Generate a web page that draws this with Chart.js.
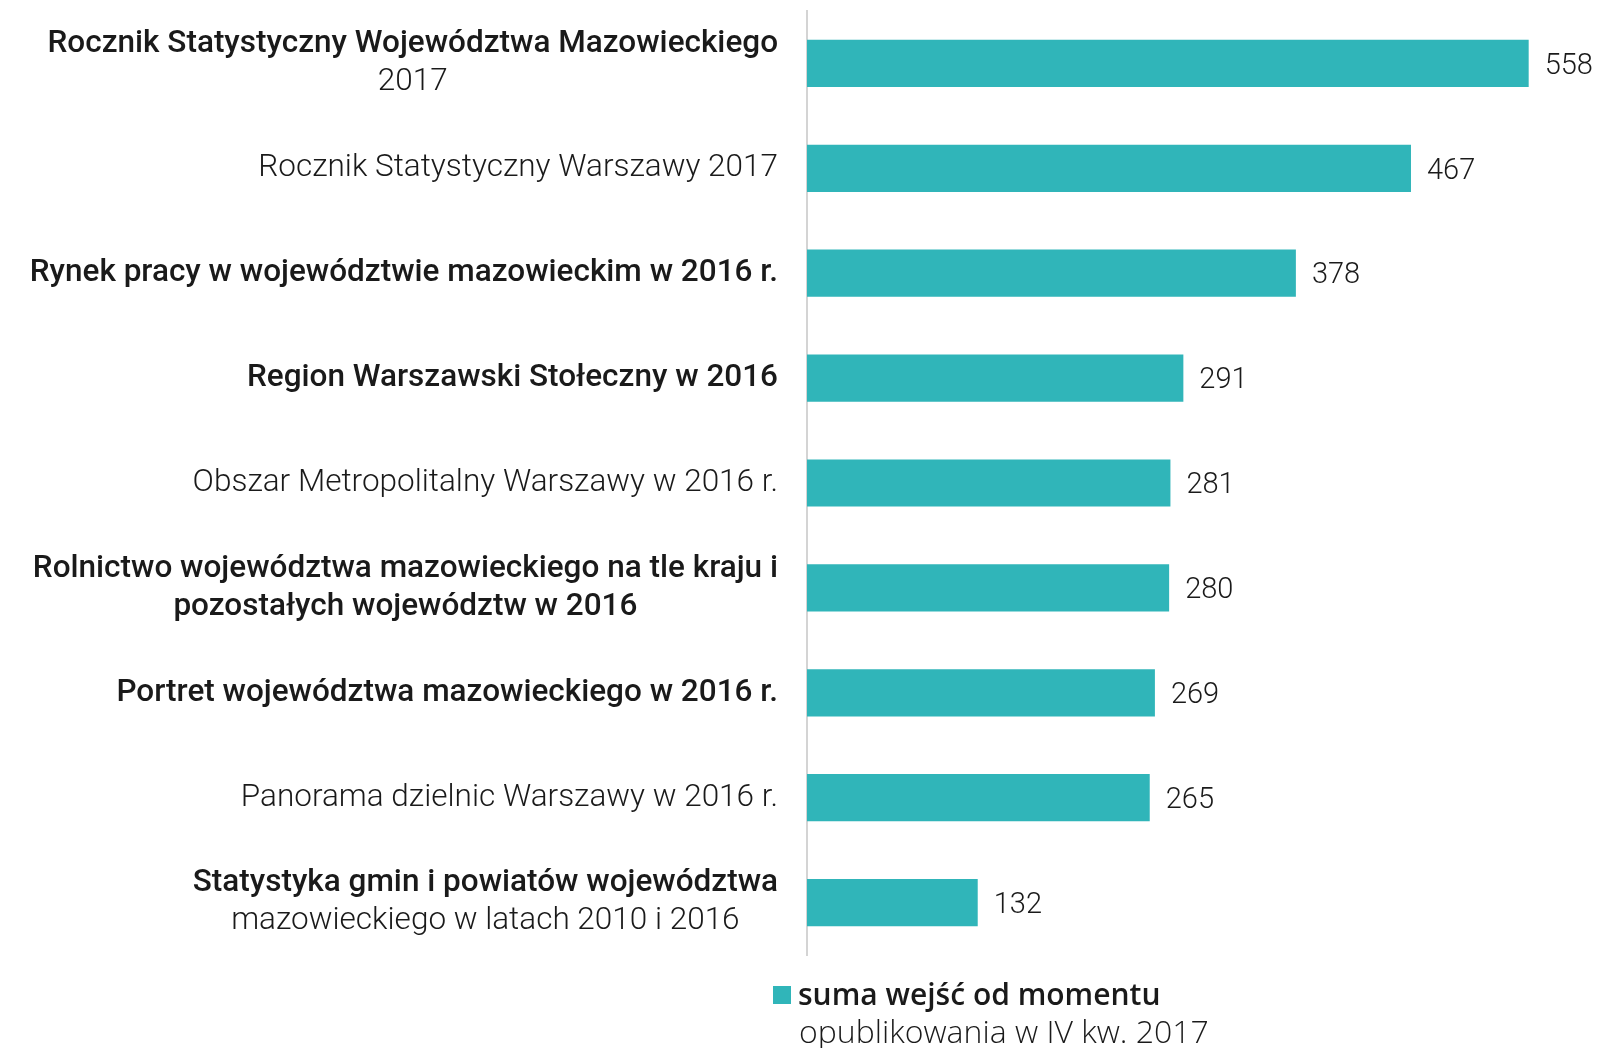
<!DOCTYPE html>
<html>
<head>
<meta charset="utf-8">
<script src="https://cdn.jsdelivr.net/npm/chart.js@4"></script>
<style>
  html, body { margin: 0; padding: 0; background: #ffffff; }
  #wrap { width: 1599px; height: 1048px; position: relative; }
</style>
</head>
<body>
<div id="wrap"><canvas id="c" width="1599" height="1048"></canvas></div>
<script>
// ---- data ----
const categories = [
  ["Rocznik Statystyczny Województwa Mazowieckiego", "2017"],
  ["Rocznik Statystyczny Warszawy 2017"],
  ["Rynek pracy w województwie mazowieckim w 2016 r."],
  ["Region Warszawski Stołeczny w 2016"],
  ["Obszar Metropolitalny Warszawy w 2016 r."],
  ["Rolnictwo województwa mazowieckiego na tle kraju i", "pozostałych województw w 2016"],
  ["Portret województwa mazowieckiego w 2016 r."],
  ["Panorama dzielnic Warszawy w 2016 r."],
  ["Statystyka gmin i powiatów województwa", "mazowieckiego w latach 2010 i 2016"]
];
const values = [558, 467, 378, 291, 281, 280, 269, 265, 132];
const seriesLabel = ["suma wejść od momentu", "opublikowania w IV kw. 2017"];
const axisMax = 600;

// ---- styles ----
const BAR_COLOR = "#30b5b9";
const TEXT_COLOR = "#1a1a1a";
const labelWeights = [[500, 300], [300], [500], [500], [300], [500, 500], [500], [300], [500, 300]];
const LABEL_FONT = "Roboto";
const LABEL_SIZE = 31.5;
const LINE_GAP = 38;
const LABEL_RIGHT = 778;

const labelPlugin = {
  id: 'labels',
  afterDraw(chart) {
    const ctx = chart.ctx;
    const y = chart.scales.y;
    ctx.save();
    ctx.fillStyle = TEXT_COLOR;
    ctx.textBaseline = 'middle';
    // category labels
    categories.forEach((lines, i) => {
      const cy = y.getPixelForValue(i);
      let maxW = 0;
      lines.forEach((ln, j) => {
        ctx.font = labelWeights[i][j] + " " + LABEL_SIZE + "px " + LABEL_FONT;
        maxW = Math.max(maxW, ctx.measureText(ln).width);
      });
      const cx = LABEL_RIGHT - maxW / 2;
      ctx.textAlign = 'center';
      lines.forEach((ln, j) => {
        ctx.font = labelWeights[i][j] + " " + LABEL_SIZE + "px " + LABEL_FONT;
        const ly = cy + (j - (lines.length - 1) / 2) * LINE_GAP;
        ctx.fillText(ln, cx, ly);
      });
    });
    // value labels
    ctx.textAlign = 'left';
    ctx.font = "300 29px Roboto";
    const meta = chart.getDatasetMeta(0);
    meta.data.forEach((bar, i) => {
      ctx.fillText(String(values[i]), bar.x + 16, bar.y + 3);
    });
    // legend
    const lx = 773, ly1 = 996, ly2 = 1034;
    ctx.fillStyle = BAR_COLOR;
    ctx.fillRect(lx, ly1 - 10, 18, 18);
    ctx.fillStyle = TEXT_COLOR;
    ctx.font = "600 30px 'Open Sans'";
    ctx.fillText(seriesLabel[0], 798, ly1);
    ctx.font = "300 32px 'Open Sans'";
    ctx.fillText(seriesLabel[1], 799, ly2);
    ctx.restore();
  }
};

new Chart(document.getElementById('c'), {
  type: 'bar',
  data: {
    labels: categories.map(l => l.join(' ')),
    datasets: [{
      label: seriesLabel.join(' '),
      data: values,
      backgroundColor: BAR_COLOR,
      borderWidth: 0,
      barPercentage: 0.9,
      categoryPercentage: 0.5
    }]
  },
  options: {
    indexAxis: 'y',
    responsive: false,
    animation: false,
    layout: { padding: { left: 799, right: 16, top: 11, bottom: 93 } },
    plugins: { legend: { display: false }, tooltip: { enabled: false } },
    scales: {
      x: {
        min: 0, max: axisMax,
        display: false
      },
      y: {
        grid: { display: false },
        ticks: { display: false },
        border: { display: true, color: '#d4d4d4', width: 2 }
      }
    }
  },
  plugins: [labelPlugin]
});
</script>
</body>
</html>
